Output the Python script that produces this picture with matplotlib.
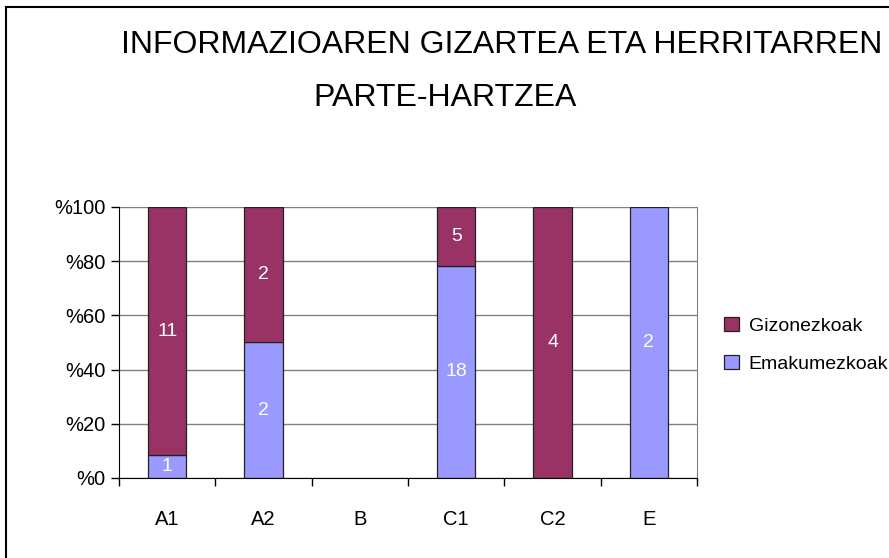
import matplotlib.pyplot as plt
import matplotlib.patches as mpatches
import numpy as np

plt.rcParams['font.family'] = ['Liberation Sans', 'DejaVu Sans']

# datuak
categories = ['A1', 'A2', 'B', 'C1', 'C2', 'E']
emakumezkoak = [1, 2, 0, 18, 0, 2]
gizonezkoak = [11, 2, 0, 5, 4, 0]
ytick_labels = ['%0', '%20', '%40', '%60', '%80', '%100']

c_giz = '#993366'
c_ema = '#9999FF'

fig = plt.figure(figsize=(8.89, 5.58), dpi=100)
ax = fig.add_axes([0.1339, 0.1434, 0.6502, 0.4857])

ema = np.array(emakumezkoak, dtype=float)
giz = np.array(gizonezkoak, dtype=float)
tot = ema + giz
safe = np.where(tot > 0, tot, 1)
ema_p = np.where(tot > 0, ema / safe * 100, 0)
giz_p = np.where(tot > 0, giz / safe * 100, 0)

x = np.arange(len(categories))
ax.set_axisbelow(True)
# zero-height bars get no edge
lw_e = [0.9 if v > 0 else 0 for v in ema_p]
lw_g = [0.9 if v > 0 else 0 for v in giz_p]
b1 = ax.bar(x, ema_p, 0.4, color=c_ema, edgecolor='#222222', linewidth=lw_e,
            label='Emakumezkoak')
b2 = ax.bar(x, giz_p, 0.4, bottom=ema_p, color=c_giz, edgecolor='#222222',
            linewidth=lw_g, label='Gizonezkoak')

# balioak barren barruan
for i in range(len(categories)):
    if ema[i] > 0:
        ax.text(x[i], ema_p[i] / 2, str(int(ema[i])), color='white',
                ha='center', va='center', fontsize=14)
    if giz[i] > 0:
        ax.text(x[i], ema_p[i] + giz_p[i] / 2, str(int(giz[i])), color='white',
                ha='center', va='center', fontsize=14)

ax.set_xlim(-0.5, len(categories) - 0.5)
ax.set_ylim(0, 100)
ax.set_yticks(np.arange(0, 101, 20))
ax.set_yticklabels(ytick_labels, fontsize=14.5)
ax.yaxis.grid(True, color='#808080', linewidth=1)

ax.set_xticks(np.arange(-0.5, len(categories), 1))
ax.set_xticklabels([])
ax.set_xticks(x, minor=True)
ax.set_xticklabels(categories, minor=True, fontsize=14.5)
ax.tick_params(axis='x', which='major', length=6, width=1, direction='out')
ax.tick_params(axis='x', which='minor', length=0, pad=23)
ax.tick_params(axis='y', length=6, width=1, pad=4, direction='out')

ax.spines['top'].set_visible(False)
ax.spines['right'].set_color('#808080')
ax.spines['left'].set_color('black')
ax.spines['bottom'].set_color('black')

handles = [b2, b1]
ax.legend(handles, ['Gizonezkoak', 'Emakumezkoak'], frameon=False,
          loc='center left', bbox_to_anchor=(0.795, 0.382),
          bbox_transform=fig.transFigure, fontsize=14, handlelength=0.75,
          handleheight=0.75, handletextpad=0.5, labelspacing=1.05)

fig.text(121 / 889, 0.905, 'INFORMAZIOAREN GIZARTEA ETA HERRITARREN',
         ha='left', va='baseline', fontsize=23)
fig.text(313 / 889, 0.81, 'PARTE-HARTZEA', ha='left', va='baseline',
         fontsize=23)

# kanpoko markoa
frame = mpatches.Rectangle((6 / 889, -0.1), 1.2, 1 - 7 / 558 + 0.1,
                           transform=fig.transFigure, fill=False,
                           edgecolor='black', linewidth=1.5)
fig.patches.append(frame)

fig.savefig('out.png', dpi=100)
